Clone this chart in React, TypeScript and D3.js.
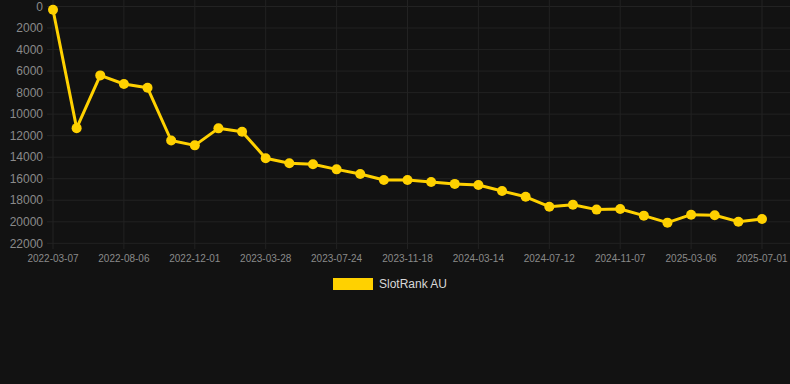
import React from "react";
import * as d3 from "d3";

const dates: string[] = [
  "2022-03-07", "2022-04-27", "2022-06-16",
  "2022-08-06", "2022-09-14", "2022-10-23",
  "2022-12-01", "2023-01-09", "2023-02-17",
  "2023-03-28", "2023-05-06", "2023-06-15",
  "2023-07-24", "2023-09-01", "2023-10-10",
  "2023-11-18", "2023-12-27", "2024-02-04",
  "2024-03-14", "2024-04-22", "2024-06-02",
  "2024-07-12", "2024-08-20", "2024-09-29",
  "2024-11-07", "2024-12-16", "2025-01-25",
  "2025-03-06", "2025-04-14", "2025-05-23",
  "2025-07-01",
];

const ranks: number[] = [
  300, 11300, 6400, 7200, 7550, 12450, 12900, 11320, 11630, 14100,
  14570, 14650, 15130, 15560, 16120, 16120, 16300, 16480, 16580, 17140,
  17680, 18600, 18420, 18870, 18810, 19430, 20080, 19340, 19400, 19990,
  19740,
];

const yTicks: number[] = [0, 2000, 4000, 6000, 8000, 10000, 12000, 14000, 16000, 18000, 20000, 22000];

const seriesName = "SlotRank AU";

const W = 790;
const H = 384;
const left = 53;
const right = 762;
const top = 6.5;
const bottom = 243.3;
const color = "#ffd100";
const grid = "#222222";

export default function App() {
  const x = d3.scalePoint<string>().domain(dates).range([left, right]);
  const y = d3.scaleLinear().domain([0, 22000]).range([top, bottom]);
  const line = d3
    .line<number>()
    .x((_, i) => x(dates[i]) as number)
    .y((d) => y(d));
  const labelDates = dates.filter((_, i) => i % 3 === 0);

  return (
    <svg
      width={W}
      height={H}
      style={{ position: "absolute", left: 0, top: 0, background: "#121212", fontFamily: "'Liberation Sans', Arial, sans-serif" }}
    >
      <rect x={0} y={0} width={W} height={H} fill="#121212" />
      {yTicks.map((t) => (
        <g key={t}>
          <line x1={47} x2={W} y1={y(t)} y2={y(t)} stroke={grid} strokeWidth={1} />
          <text x={43} y={y(t)} dy="0.35em" textAnchor="end" fontSize={12} fill="#8a8a8a">
            {t}
          </text>
        </g>
      ))}
      {labelDates.map((d) => (
        <g key={d}>
          <line x1={x(d)} x2={x(d)} y1={0} y2={249} stroke={grid} strokeWidth={1} />
          <text x={x(d)} y={262} textAnchor="middle" fontSize={10} fill="#8a8a8a">
            {d}
          </text>
        </g>
      ))}
      <path d={line(ranks) || ""} fill="none" stroke={color} strokeWidth={3} strokeLinejoin="round" />
      {ranks.map((v, i) => (
        <circle key={i} cx={x(dates[i])} cy={y(v)} r={5} fill={color} />
      ))}
      <rect x={333} y={278} width={40} height={12} fill={color} />
      <text x={379} y={284} dy="0.35em" fontSize={12} fill="#d8d8d8">
        {seriesName}
      </text>
    </svg>
  );
}
